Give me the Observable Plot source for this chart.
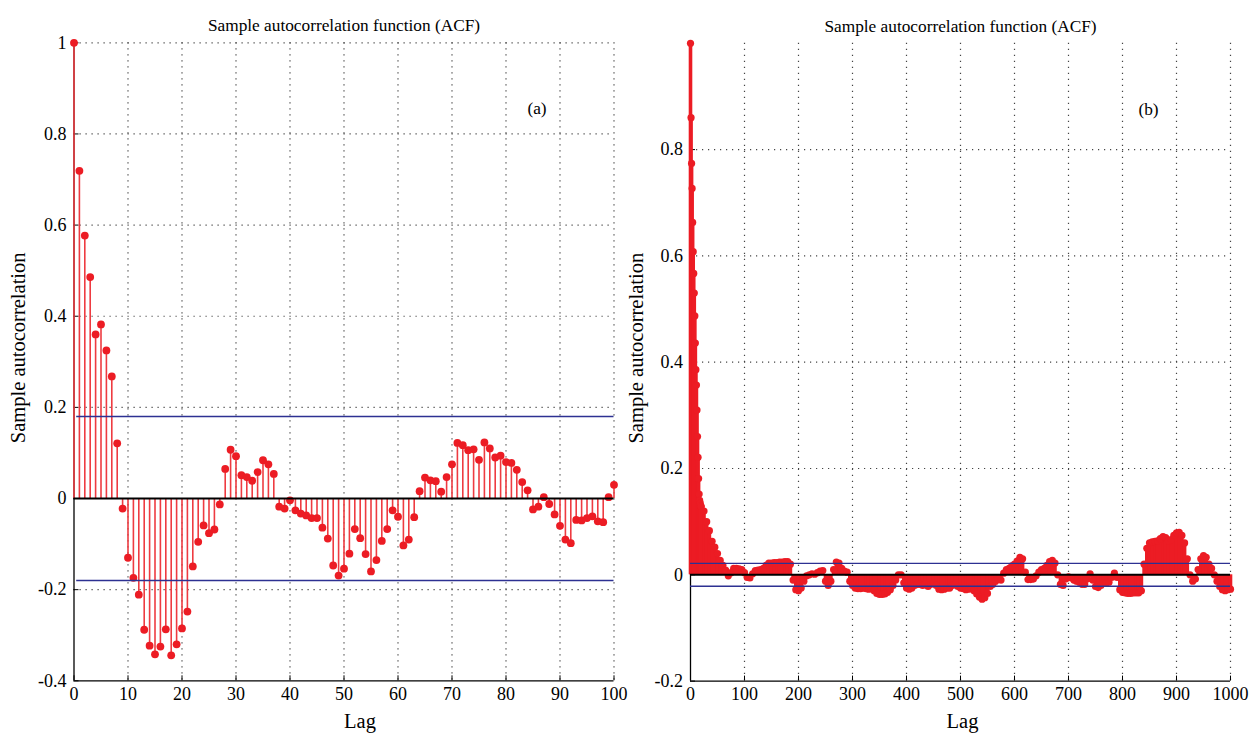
<!DOCTYPE html>
<html><head><meta charset="utf-8">
<script src="https://cdn.jsdelivr.net/npm/d3@7"></script>
<script src="https://cdn.jsdelivr.net/npm/@observablehq/plot@0.6"></script>
<style>
html,body{margin:0;padding:0;background:#fff;overflow:hidden}
#wrap{display:flex;width:1256px;height:742px}
#wrap svg{display:block;flex:none}
#wrap svg text{font-family:"Liberation Serif","DejaVu Serif",serif !important;font-variant-numeric:normal !important}
</style></head><body><div id="wrap"></div>
<script>
const titleText = "Sample autocorrelation function (ACF)";
const yLabelText = "Sample autocorrelation";
const xLabelText = "Lag";
const panelTags = ["(a)", "(b)"];

// Panel (a): lags 0..100
const leftLags = d3.range(0, 101);
const leftAcf = [
  1, 0.719, 0.577, 0.486, 0.360, 0.382, 0.325, 0.268, 0.121, -0.022,
  -0.130, -0.174, -0.211, -0.288, -0.323, -0.342, -0.325, -0.287, -0.344, -0.320,
  -0.285, -0.248, -0.149, -0.095, -0.059, -0.076, -0.068, -0.013, 0.065, 0.107,
  0.093, 0.051, 0.047, 0.039, 0.058, 0.084, 0.075, 0.054, -0.018, -0.022,
  -0.004, -0.026, -0.033, -0.037, -0.043, -0.043, -0.064, -0.088, -0.147, -0.169,
  -0.154, -0.121, -0.067, -0.087, -0.122, -0.160, -0.135, -0.093, -0.067, -0.026,
  -0.040, -0.103, -0.090, -0.041, 0.016, 0.046, 0.040, 0.038, 0.015, 0.047,
  0.075, 0.122, 0.117, 0.106, 0.108, 0.085, 0.123, 0.110, 0.090, 0.094,
  0.080, 0.078, 0.063, 0.036, 0.018, -0.024, -0.018, 0.003, -0.012, -0.035,
  -0.060, -0.090, -0.098, -0.047, -0.048, -0.043, -0.039, -0.050, -0.052, 0.003,
  0.030
];
const leftBound = 0.18;
const leftXTicks = [0, 10, 20, 30, 40, 50, 60, 70, 80, 90, 100];
const leftYTicks = [-0.4, -0.2, 0, 0.2, 0.4, 0.6, 0.8, 1];
const leftYTickLabels = ["-0.4", "-0.2", "0", "0.2", "0.4", "0.6", "0.8", "1"];

// Panel (b): lags 0..20 each, then every 5 lags to 1000
const rightLags = [...d3.range(0, 21), ...d3.range(25, 1001, 5)];
const rightAcf = [
  // 0..20
  1, 0.86, 0.774, 0.727, 0.663, 0.608, 0.567, 0.530, 0.487, 0.436,
  0.386, 0.357, 0.310, 0.260, 0.221, 0.181, 0.152, 0.140, 0.135, 0.130, 0.128,
  // 25..95
  0.120, 0.100, 0.083, 0.063, 0.052, 0.040, 0.027, 0.018, 0.009, -0.002, 0.004, 0.012, 0.012, 0.011, 0.010,
  // 100..195
  0.004, -0.005, -0.006, 0.002, 0.008, 0.009, 0.010, 0.012, 0.018, 0.022,
  0.022, 0.023, 0.023, 0.024, 0.024, 0.025, 0.025, 0.020, -0.010, -0.028,
  // 200..295
  -0.030, -0.025, -0.012, -0.002, 0.000, 0.002, 0.001, 0.004, 0.007, 0.008,
  -0.012, -0.020, -0.012, 0.010, 0.024, 0.022, 0.012, 0.007, 0.005, -0.012,
  // 300..395
  -0.020, -0.025, -0.026, -0.026, -0.025, -0.026, -0.027, -0.026, -0.030, -0.035,
  -0.037, -0.037, -0.036, -0.033, -0.028, -0.020, -0.010, 0.000, 0.000, -0.015,
  // 400..495
  -0.025, -0.027, -0.025, -0.020, -0.018, -0.018, -0.020, -0.018, -0.022, -0.018,
  -0.015, -0.020, -0.027, -0.028, -0.027, -0.025, -0.025, -0.020, -0.018, -0.022,
  // 500..595
  -0.025, -0.026, -0.028, -0.027, -0.024, -0.030, -0.036, -0.042, -0.046, -0.043,
  -0.035, -0.022, -0.018, -0.012, -0.008, -0.010, 0.003, 0.010, 0.012, 0.017,
  // 600..695
  0.020, 0.026, 0.033, 0.030, 0.005, -0.009, -0.009, -0.008, -0.002, 0.005,
  0.010, 0.012, 0.018, 0.025, 0.027, 0.022, 0.000, -0.018, -0.020, -0.008,
  // 700..795
  -0.004, -0.006, -0.010, -0.012, -0.014, -0.018, -0.018, -0.008, 0.002, -0.010,
  -0.022, -0.024, -0.020, -0.016, -0.016, -0.014, -0.005, 0.003, -0.005, -0.028,
  // 800..895
  -0.033, -0.034, -0.035, -0.035, -0.034, -0.034, -0.034, -0.030, 0.020, 0.050,
  0.060, 0.062, 0.063, 0.064, 0.068, 0.072, 0.070, 0.064, 0.066, 0.074,
  // 900..1000
  0.079, 0.080, 0.074, 0.060, 0.030, 0.000, -0.012, -0.008, 0.010, 0.030,
  0.036, 0.033, 0.020, 0.012, 0.000, -0.012, -0.022, -0.028, -0.030, -0.028,
  -0.027
];
const rightBound = 0.0215;
const rightXTicks = [0, 100, 200, 300, 400, 500, 600, 700, 800, 900, 1000];
const rightYTicks = [-0.2, 0, 0.2, 0.4, 0.6, 0.8];
const rightYTickLabels = ["-0.2", "0", "0.2", "0.4", "0.6", "0.8"];

const RED_DOT = "#ec1c24";
const NAVY = "#2d3192";
const GRID = "#444";
const FONT = "Liberation Serif, DejaVu Serif, serif";

function panel(o) {
  const data = o.lags.map((lag, i) => ({lag, acf: o.acf[i]}));
  const [x0, x1] = o.xDomain;
  const [y0, y1] = o.yDomain;
  const frameW = o.width - o.ml - o.mr;
  const frameH = 742 - o.mt - o.mb;
  return Plot.plot({
    width: o.width,
    height: 742,
    marginLeft: o.ml, marginRight: o.mr, marginTop: o.mt, marginBottom: o.mb,
    x: {domain: o.xDomain},
    y: {domain: o.yDomain},
    style: {fontFamily: FONT, fontSize: "18px", color: "#000", background: "#fff", overflow: "visible"},
    marks: [
      // dotted grid
      Plot.gridX(o.xTicks.filter(d => d !== x0), {stroke: GRID, strokeOpacity: 1, strokeWidth: 1.2, strokeDasharray: "1.2,4.8"}),
      Plot.gridY(o.yTicks.filter(d => d !== y0 && d !== 0), {stroke: GRID, strokeOpacity: 1, strokeWidth: 1.2, strokeDasharray: "1.2,4.8"}),
      // axis lines
      Plot.ruleX([x0], {stroke: "#000", strokeWidth: 1.3}),
      Plot.ruleY([y0], {stroke: "#000", strokeWidth: 1.3}),
      // inward ticks
      Plot.tickY(o.yTicks, {stroke: "#000", insetRight: frameW - 5}),
      Plot.tickX(o.xTicks, {stroke: "#000", insetTop: frameH - 5}),
      // tick labels
      Plot.axisX({ticks: o.xTicks, tickSize: 0, tickPadding: 6, tickFormat: d => String(d), label: null, fontSize: 18, fontFamily: FONT}),
      Plot.axisY({ticks: o.yTicks, tickSize: 0, tickPadding: 7.5, tickFormat: (d, i) => o.yLabels[i], label: null, fontSize: 18, fontFamily: FONT}),
      // stems and markers
      Plot.ruleX(data, {x: "lag", y1: 0, y2: "acf", stroke: o.stemColor, strokeWidth: o.stemW}),
      Plot.dot(data, {x: "lag", y: "acf", r: o.dotR, fill: RED_DOT, stroke: "none"}),
      // zero baseline
      Plot.ruleY([0], {x1: x0, x2: x1, stroke: "#000", strokeWidth: 2}),
      // confidence bounds
      Plot.ruleY([o.bound, -o.bound], {x1: o.boundStart, x2: x1, stroke: NAVY, strokeWidth: 1.4}),
      // texts
      Plot.text([titleText], {frameAnchor: "top", dy: -24, fontSize: 17.3, fontFamily: FONT}),
      Plot.text([xLabelText], {frameAnchor: "bottom", dx: o.xlabDx, dy: 47, fontSize: 20.5, fontFamily: FONT}),
      Plot.text([yLabelText], {frameAnchor: "left", textAnchor: "middle", rotate: -90, dx: o.ylabDx, dy: -14, fontSize: 20.5, fontFamily: FONT}),
      Plot.text([o.tag], {frameAnchor: "top-right", textAnchor: "middle", dx: o.tagDx, dy: 59, fontSize: 17.3, fontFamily: FONT})
    ]
  });
}

const wrap = document.getElementById("wrap");
wrap.appendChild(panel({
  width: 628, ml: 73.5, mr: 14.5, mt: 42.3, mb: 61.7,
  lags: leftLags, acf: leftAcf, bound: leftBound, boundStart: 0.5,
  xDomain: [0, 100], yDomain: [-0.4, 1],
  xTicks: leftXTicks, yTicks: leftYTicks, yLabels: leftYTickLabels,
  stemColor: "#ee3b41", stemW: 1.6, dotR: 3.9, ylabDx: -55.5, xlabDx: 16, tag: panelTags[0], tagDx: -77
}));
wrap.appendChild(panel({
  width: 628, ml: 62, mr: 26, mt: 42.8, mb: 61.4,
  lags: rightLags, acf: rightAcf, bound: rightBound, boundStart: 0,
  xDomain: [0, 1000], yDomain: [-0.2, 1],
  xTicks: rightXTicks, yTicks: rightYTicks, yLabels: rightYTickLabels,
  stemColor: RED_DOT, stemW: 3.6, dotR: 3.6, ylabDx: -54, xlabDx: 2, tag: panelTags[1], tagDx: -82
}));
</script></body></html>
